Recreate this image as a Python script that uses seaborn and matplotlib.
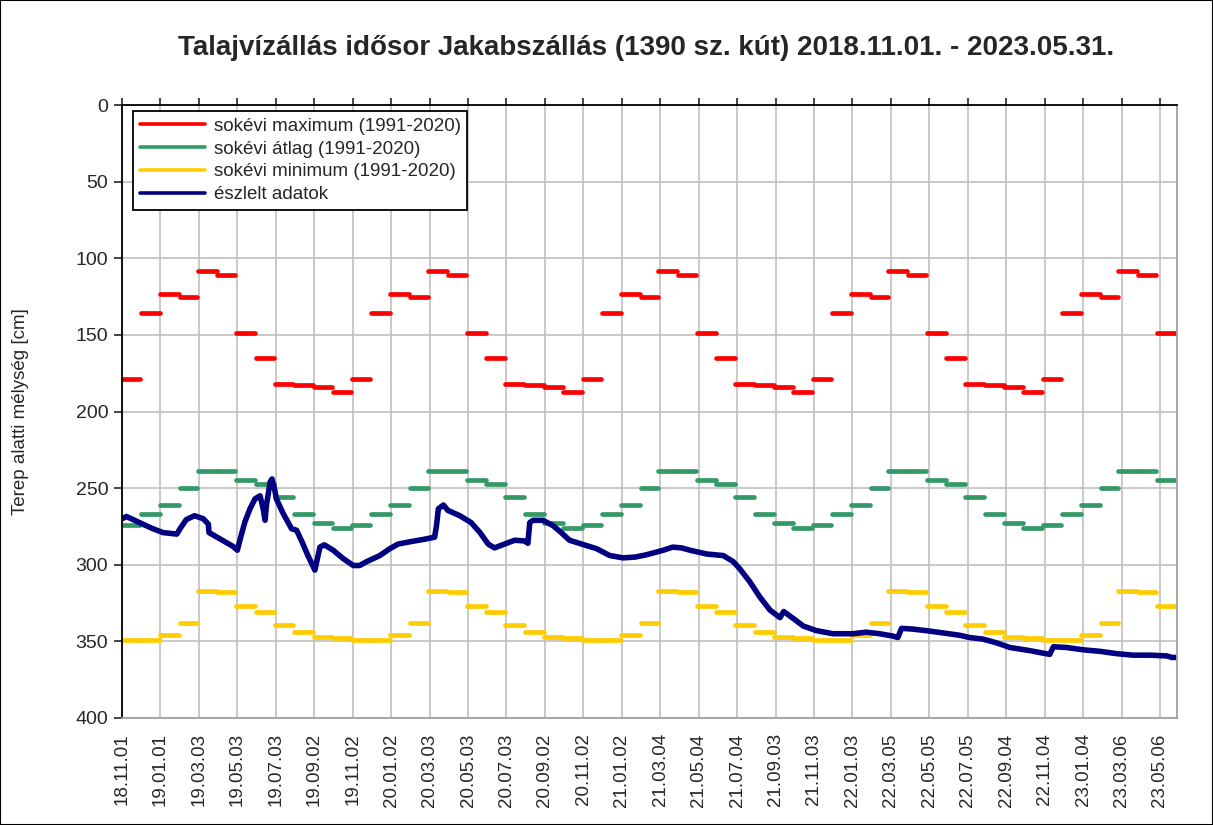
import pandas as pd
import matplotlib
matplotlib.use("Agg")
import matplotlib.pyplot as plt
from matplotlib.lines import Line2D
from matplotlib.patches import Rectangle
import seaborn as sns

# =============================
# Adatok
# =============================

# sokévi havi értékek (január ... december), cm terep alatt
sokevi_max = [123, 125, 108, 111, 149, 165, 182, 183, 184, 187, 179, 136]
sokevi_atlag = [261, 250, 239, 239, 245, 247, 256, 267, 273, 276, 274, 267]
sokevi_min = [346, 338, 317, 318, 327, 331, 339, 344, 347, 348, 349, 349]

# észlelt talajvízszint (leolvasott töréspontok)
eszlelt_datum = [
    "2018-11-01", "2018-11-08", "2018-11-21", "2018-12-04", "2018-12-20",
    "2019-01-05", "2019-01-27", "2019-02-01", "2019-02-11", "2019-02-24",
    "2019-03-10", "2019-03-18", "2019-03-19", "2019-04-05", "2019-04-26",
    "2019-05-03", "2019-05-07", "2019-05-15", "2019-05-23", "2019-05-31",
    "2019-06-08", "2019-06-13", "2019-06-16", "2019-06-18", "2019-06-24",
    "2019-06-27", "2019-07-01", "2019-07-04", "2019-07-14", "2019-07-28",
    "2019-08-05", "2019-08-13", "2019-08-23", "2019-09-03", "2019-09-11",
    "2019-09-18", "2019-10-02", "2019-10-18", "2019-11-03", "2019-11-13",
    "2019-11-24", "2019-12-15", "2019-12-31", "2020-01-13", "2020-02-01",
    "2020-02-22", "2020-03-11", "2020-03-14", "2020-03-17", "2020-03-25",
    "2020-04-01", "2020-04-20", "2020-05-08", "2020-05-22", "2020-06-04",
    "2020-06-14", "2020-06-30", "2020-07-16", "2020-08-01", "2020-08-06",
    "2020-08-09", "2020-08-14", "2020-08-30", "2020-09-15", "2020-09-28",
    "2020-10-11", "2020-11-07", "2020-11-23", "2020-12-14", "2021-01-04",
    "2021-01-23", "2021-02-10", "2021-03-09", "2021-03-24", "2021-04-07",
    "2021-04-20", "2021-05-17", "2021-06-12", "2021-06-28", "2021-07-08",
    "2021-07-24", "2021-08-09", "2021-08-25", "2021-09-10", "2021-09-16",
    "2021-10-01", "2021-10-17", "2021-11-07", "2021-12-03", "2022-01-04",
    "2022-01-25", "2022-02-15", "2022-03-08", "2022-03-16", "2022-03-22",
    "2022-04-09", "2022-04-30", "2022-05-27", "2022-06-22", "2022-07-08",
    "2022-07-29", "2022-08-20", "2022-09-10", "2022-10-11", "2022-11-12",
    "2022-11-18", "2022-12-09", "2023-01-04", "2023-01-31", "2023-02-26",
    "2023-03-24", "2023-04-20", "2023-05-17", "2023-05-25", "2023-05-31",
]
eszlelt_ertek = [
    270, 268.5, 271, 273.5, 276.5,
    279, 280, 276.5, 270.5, 268,
    270, 273.5, 279, 283, 288,
    290.5, 284, 272, 263.5, 257,
    255, 263.5, 271, 261.5, 246,
    244, 250.5, 257, 266, 276.5,
    277.5, 284.5, 294, 303.5, 288.5,
    287, 290.5, 296, 300.5, 300.5,
    298, 294, 289.5, 286.5, 285,
    283.5, 282, 274.5, 263.5, 261,
    264.5, 268, 272.5, 279, 286.5,
    289, 286.5, 284, 284.5, 286,
    272.5, 271, 271, 274.5, 279,
    284, 287.5, 289.5, 294, 295.5,
    295, 293.5, 290.5, 288.5, 289,
    290.5, 293, 294, 298, 302.5,
    311, 321, 329.5, 334.5, 330.5,
    335, 340, 343, 345, 345,
    344, 345, 346.5, 347.5, 341.5,
    342, 343, 344.5, 346, 347.5,
    348.5, 351, 354, 356, 358.5,
    353.5, 354, 355.5, 356.5, 358,
    359, 359, 359.5, 360.5, 360.5,
]

idoszak_kezdet = "2018-11-01"
idoszak_vege = "2023-05-31"

cimkek = [
    "sokévi maximum (1991-2020)",
    "sokévi átlag (1991-2020)",
    "sokévi minimum (1991-2020)",
    "észlelt adatok",
]
szinek = ["#FF0000", "#339966", "#FFCC00", "#000080"]

# =============================
# Havi lépcsős tábla összeállítása
# =============================

honap_kezdetek = pd.date_range(idoszak_kezdet, idoszak_vege, freq="MS")
sorok = []
for nev, ertekek in zip(cimkek[:3], [sokevi_max, sokevi_atlag, sokevi_min]):
    for k in honap_kezdetek:
        vege = min(k + pd.offsets.MonthEnd(0), pd.Timestamp(idoszak_vege))
        sorok.append({"sorozat": nev, "honap": k, "datum": k, "ertek": ertekek[k.month - 1]})
        sorok.append({"sorozat": nev, "honap": k, "datum": vege, "ertek": ertekek[k.month - 1]})
df_havi = pd.DataFrame(sorok)

df_eszlelt = pd.DataFrame({"datum": pd.to_datetime(eszlelt_datum), "ertek": eszlelt_ertek})

# =============================
# Ábra
# =============================

sns.set_style("white")
plt.rcParams["font.family"] = ["Liberation Sans", "DejaVu Sans"]

fig = plt.figure(figsize=(12.13, 8.25), dpi=100)
ax = fig.add_axes([0.1006, 0.1297, 0.8697, 0.743])

# lépcsős sokévi sorozatok (havonként külön szakasz)
for nev, szin in zip(cimkek[:3], szinek[:3]):
    sns.lineplot(
        data=df_havi[df_havi["sorozat"] == nev],
        x="datum", y="ertek",
        units="honap", estimator=None,
        color=szin, lw=3.4, solid_capstyle="round",
        legend=False, ax=ax,
    )

# észlelt adatok
sns.lineplot(
    data=df_eszlelt, x="datum", y="ertek",
    color=szinek[3], lw=4.0, solid_joinstyle="round",
    legend=False, ax=ax,
)

# tengelyek
ax.set_ylim(400, 0)
ax.set_yticks(range(0, 401, 50))
ax.set_xlim(pd.Timestamp(idoszak_kezdet), pd.Timestamp("2023-06-02"))

tick_datumok = pd.date_range(idoszak_kezdet, idoszak_vege, freq="61D")
ax.set_xticks(tick_datumok)
ax.set_xticklabels([d.strftime("%y.%m.%d") for d in tick_datumok], rotation=90, fontsize=13.5)
ax.tick_params(axis="y", labelsize=14, left=True, length=6, width=1.2, direction="out", pad=4)
ax.tick_params(axis="x", top=True, bottom=False, labeltop=False, labelbottom=True,
               length=5, width=1.2, direction="out", pad=6)

ax.set_xlabel("")
ax.set_ylabel("Terep alatti mélység [cm]", fontsize=13.5)
ax.yaxis.set_label_coords(-0.088, 0.5)

ax.grid(True, color="#c0c0c0", lw=1.2)
ax.set_axisbelow(True)

for oldal in ["left", "top"]:
    ax.spines[oldal].set_color("black")
    ax.spines[oldal].set_linewidth(1.3)
for oldal in ["right", "bottom"]:
    ax.spines[oldal].set_color("#a0a0a0")
    ax.spines[oldal].set_linewidth(1.3)

# jelmagyarázat
kezelok = [Line2D([0], [0], color=c, lw=2.6) for c in szinek]
leg = ax.legend(
    kezelok, cimkek,
    loc="upper left", bbox_to_anchor=(0.0104, 0.99),
    fontsize=13.5, handlelength=3.5, handletextpad=0.45,
    labelspacing=0.3, borderpad=0.35, borderaxespad=0,
    frameon=True, fancybox=False, framealpha=1, edgecolor="black",
)
leg.get_frame().set_linewidth(1.3)

# cím
fig.text(0.5326, 0.942,
         "Talajvízállás idősor Jakabszállás (1390 sz. kút) 2018.11.01. - 2023.05.31.",
         ha="center", va="center", fontsize=20, fontweight="bold")

# külső keret
fig.patches.append(Rectangle((0, 0), 1, 1, transform=fig.transFigure,
                             fill=False, edgecolor="black", lw=1.5))

fig.savefig("out.png", dpi=100)
